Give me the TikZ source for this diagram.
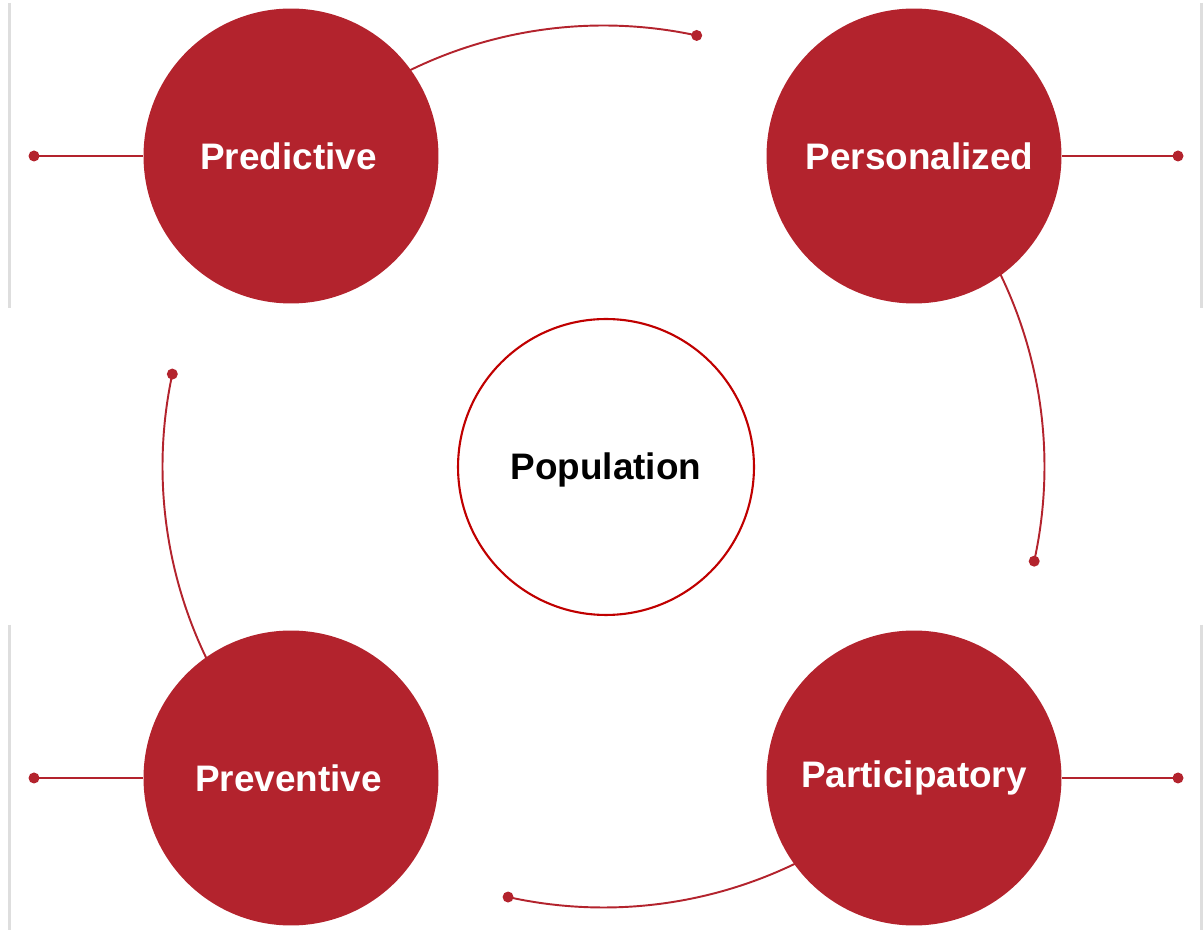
\documentclass[tikz,border=0pt]{standalone}
\usepackage{fontspec}
\setmainfont{Liberation Sans}
\usetikzlibrary{calc}
\definecolor{dotred}{RGB}{179,35,45}
\definecolor{ringred}{RGB}{192,0,0}
\definecolor{edgegrey}{RGB}{222,222,222}
\begin{document}
\begin{tikzpicture}[x=0.02cm,y=0.02cm,
  sat/.style={circle,fill=dotred,draw=none,minimum size=5.9cm,inner sep=0pt,
    text=white,font=\fontsize{21}{25}\selectfont\bfseries},
  hub/.style={circle,fill=white,draw=ringred,line width=1.2pt,minimum size=5.92cm,inner sep=0pt,
    text=black,font=\fontsize{21}{25}\selectfont\bfseries},
  link/.style={draw=dotred,line width=1.1pt},
  dot/.style={fill=dotred},
  edge/.style={draw=edgegrey,line width=1.6pt}]
\useasboundingbox (0,0) rectangle (1204,930);
% faint side rules
\draw[edge] (9.5,927) -- (9.5,622);
\draw[edge] (9.5,305) -- (9.5,0);
\draw[edge] (1201.5,927) -- (1201.5,622);
\draw[edge] (1201.5,305) -- (1201.5,0);
% hub
\node[hub] (pop) at (606,463) {\rule{0pt}{18.5pt}Population};
% arcs around the hub (drawn before satellites so their starts are hidden)
\coordinate (ac) at (603.5,463.5);
\coordinate (e1) at ($(ac)+(77.8:441)$);
\coordinate (e2) at ($(ac)+(-12.4:441)$);
\coordinate (e3) at ($(ac)+(-102.5:441)$);
\coordinate (e4) at ($(ac)+(167.9:441)$);
\draw[link] ($(ac)+(135:441)$) arc[start angle=135,end angle=77.8,radius=441];
\draw[link] ($(ac)+(45:441)$) arc[start angle=45,end angle=-12.4,radius=441];
\draw[link] ($(ac)+(-45:441)$) arc[start angle=-45,end angle=-102.5,radius=441];
\draw[link] ($(ac)+(225:441)$) arc[start angle=225,end angle=167.9,radius=441];
\foreach \e in {e1,e2,e3,e4} \fill[dot] (\e) circle (5.5);
% side connectors
\coordinate (l1) at (34,774);
\coordinate (r1) at (1178,774);
\coordinate (l2) at (34,152);
\coordinate (r2) at (1178,152);
\node[sat] (pred) at (291,774) {\hspace*{-0.1cm}Predictive};
\node[sat] (pers) at (914,774) {\hspace*{0.22cm}Personalized};
\node[sat] (prev) at (291,152) {\hspace*{-0.1cm}Preventive};
\node[sat] (part) at (914,152) {Participatory};
\draw[link,line width=0.9pt] (l1) -- (pred.west);
\draw[link,line width=0.9pt] (pers.east) -- (r1);
\draw[link,line width=0.9pt] (l2) -- (prev.west);
\draw[link,line width=0.9pt] (part.east) -- (r2);
\foreach \e in {l1,r1,l2,r2} \fill[dot] (\e) circle (5.5);
\end{tikzpicture}
\end{document}
